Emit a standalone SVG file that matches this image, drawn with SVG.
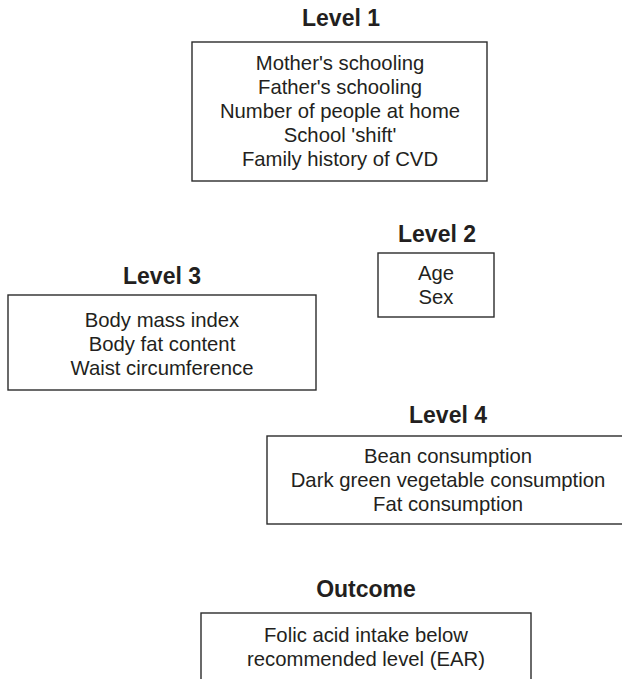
<svg xmlns="http://www.w3.org/2000/svg" width="622" height="679" viewBox="0 0 622 679">
<style>
.box{fill:#fff;stroke:#2b2b2b;stroke-width:1.4}
.t{font-family:"Liberation Sans",Arial,sans-serif;font-size:23px;font-weight:bold;fill:#231f20;text-anchor:middle}
.b{font-family:"Liberation Sans",Arial,sans-serif;font-size:20.3px;fill:#231f20;text-anchor:middle}
</style>
<rect width="622" height="679" fill="#fff"/>
<g id="level1">
<text class="t" x="341" y="26">Level 1</text>
<rect class="box" x="192" y="42" width="295" height="139"/>
<text class="b" x="340" y="70">Mother's schooling</text>
<text class="b" x="340" y="94">Father's schooling</text>
<text class="b" x="340" y="118">Number of people at home</text>
<text class="b" x="340" y="142">School 'shift'</text>
<text class="b" x="340" y="166">Family history of CVD</text>
</g>
<g id="level2">
<text class="t" x="437" y="242">Level 2</text>
<rect class="box" x="378" y="253" width="116" height="64"/>
<text class="b" x="436" y="280">Age</text>
<text class="b" x="436" y="304">Sex</text>
</g>
<g id="level3">
<text class="t" x="162" y="284">Level 3</text>
<rect class="box" x="8" y="295" width="308" height="95"/>
<text class="b" x="162" y="327">Body mass index</text>
<text class="b" x="162" y="351">Body fat content</text>
<text class="b" x="162" y="375">Waist circumference</text>
</g>
<g id="level4">
<text class="t" x="448" y="423">Level 4</text>
<rect class="box" x="267" y="436" width="362" height="88"/>
<text class="b" x="448" y="463">Bean consumption</text>
<text class="b" x="448" y="487">Dark green vegetable consumption</text>
<text class="b" x="448" y="511">Fat consumption</text>
</g>
<g id="outcome">
<text class="t" x="366" y="597">Outcome</text>
<rect class="box" x="201" y="613" width="330" height="80"/>
<text class="b" x="366" y="642">Folic acid intake below</text>
<text class="b" x="366" y="666">recommended level (EAR)</text>
</g>
<g id="connectors"></g>
</svg>
